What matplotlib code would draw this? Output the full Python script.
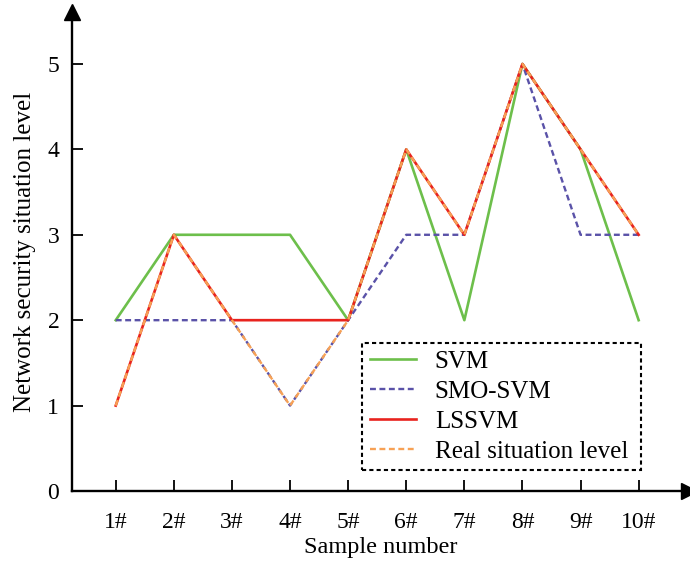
import matplotlib.pyplot as plt
import numpy as np

plt.rcParams['font.family'] = ['Liberation Serif', 'DejaVu Serif']

samples = ['1#', '2#', '3#', '4#', '5#', '6#', '7#', '8#', '9#', '10#']
svm = [2, 3, 3, 3, 2, 4, 2, 5, 4, 2]
smo_svm = [2, 2, 2, 1, 2, 3, 3, 5, 3, 3]
lssvm = [1, 3, 2, 2, 2, 4, 3, 5, 4, 3]
real = [1, 3, 2, 1, 2, 4, 3, 5, 4, 3]

x = np.arange(1, len(samples) + 1)

fig = plt.figure(figsize=(6.9, 5.61), dpi=100)
ax = fig.add_axes([0.104, 0.1248, 0.894, 0.854])

ax.plot(x, svm, color='#6dbf4b', lw=1.9, label='SVM')
ax.plot(x, smo_svm, color='#5a52a8', lw=1.7, ls=(0, (2.5, 1.5)), label='SMO-SVM')
ax.plot(x, lssvm, color='#e8231e', lw=1.9, label='LSSVM')
ax.plot(x, real, color='#f7a155', lw=1.7, ls=(0, (2.5, 1.5)), label='Real situation level')

ax.set_xlim(0.243, 10.86)
ax.set_ylim(0, 5.61)
ax.set_xticks(x)
ax.set_xticklabels(samples)
ax.set_yticks(range(6))
ax.tick_params(direction='in', length=8, width=1.3, labelsize=17)
ax.tick_params(axis='x', pad=15)
ax.tick_params(axis='y', pad=9)

for s in ['top', 'right']:
    ax.spines[s].set_visible(False)
for s in ['left', 'bottom']:
    ax.spines[s].set_linewidth(1.7)

# arrow heads
ax.plot(1, 0, '>k', ms=11, transform=ax.transAxes, clip_on=False)
ax.plot(0, 1, '^k', ms=11, transform=ax.transAxes, clip_on=False)

ax.set_xlabel('Sample number', fontsize=17.5, labelpad=3)
ax.set_ylabel('Network security situation level', fontsize=18, labelpad=8)

leg = ax.legend(loc='upper left', bbox_to_anchor=(0.525, 0.389, 0.404, 0),
                bbox_transform=fig.transFigure, mode='expand', fontsize=18,
                frameon=True, fancybox=False, handlelength=1.85, borderpad=0.3,
                labelspacing=0.3, handletextpad=0.75, borderaxespad=0)
frame = leg.get_frame()
frame.set_edgecolor('black')
frame.set_linestyle((0, (2, 1.5)))
frame.set_linewidth(1.5)
frame.set_alpha(1)

fig.savefig('out.png', dpi=100)
